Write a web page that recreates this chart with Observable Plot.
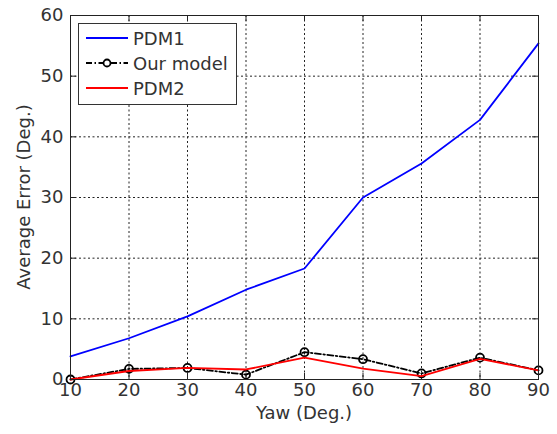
<!DOCTYPE html>
<html>
<head>
<meta charset="utf-8">
<script src="https://cdn.jsdelivr.net/npm/d3@7"></script>
<script src="https://cdn.jsdelivr.net/npm/@observablehq/plot@0.6"></script>
<style>
  html, body { margin: 0; padding: 0; background: white; }
  #chart { width: 557px; height: 434px; }
</style>
</head>
<body>
<div id="chart"></div>
<script>
const yaw = [10, 20, 30, 40, 50, 60, 70, 80, 90];
const pdm1 = [3.8, 6.8, 10.4, 14.8, 18.3, 30.0, 35.6, 42.8, 55.4];
const ourModel = [0.0, 1.75, 1.9, 0.8, 4.5, 3.35, 1.0, 3.6, 1.5];
const pdm2 = [0.0, 1.4, 1.9, 1.65, 3.6, 1.8, 0.55, 3.4, 1.5];
const xTicks = [10, 20, 30, 40, 50, 60, 70, 80, 90];
const yTicks = [0, 10, 20, 30, 40, 50, 60];
const seriesNames = ["PDM1", "Our model", "PDM2"];
const xLabel = "Yaw (Deg.)";
const yLabel = "Average Error (Deg.)";

const W = 557, H = 434, mL = 70, mR = 19, mT = 15, mB = 55;
const innerH = H - mT - mB, innerW = W - mL - mR;
const tickLen = 6;

const rows = (vals) => yaw.map((x, i) => ({x, y: vals[i]}));

const chart = Plot.plot({
  width: W, height: H,
  marginLeft: mL, marginRight: mR, marginTop: mT, marginBottom: mB,
  style: {fontFamily: "DejaVu Sans", fontSize: "18px", color: "#333", background: "white"},
  x: {domain: [10, 90]},
  y: {domain: [0, 60]},
  marks: [
    Plot.ruleX(xTicks, {stroke: "#222", strokeDasharray: "2,2.5", strokeWidth: 1}),
    Plot.ruleY(yTicks, {stroke: "#222", strokeDasharray: "2,2.5", strokeWidth: 1}),
    Plot.ruleX(xTicks, {stroke: "#222", insetTop: innerH - tickLen}),
    Plot.ruleX(xTicks, {stroke: "#222", insetBottom: innerH - tickLen}),
    Plot.ruleY(yTicks, {stroke: "#222", insetRight: innerW - tickLen}),
    Plot.ruleY(yTicks, {stroke: "#222", insetLeft: innerW - tickLen}),
    Plot.axisX(xTicks, {tickSize: 0, tickPadding: 4, label: null, fill: "#333"}),
    Plot.axisY(yTicks, {tickSize: 0, tickPadding: 7, label: null, fill: "#333"}),
    Plot.line(rows(pdm1), {x: "x", y: "y", stroke: "#0000ff", strokeWidth: 1.8}),
    Plot.line(rows(ourModel), {x: "x", y: "y", stroke: "#000", strokeWidth: 1.8, strokeDasharray: "6,2.5,1.5,2.5"}),
    Plot.dot(rows(ourModel), {x: "x", y: "y", r: 4, stroke: "#000", strokeWidth: 1.8, fill: "none"}),
    Plot.line(rows(pdm2), {x: "x", y: "y", stroke: "#ff0000", strokeWidth: 1.8}),
    Plot.frame({stroke: "#222", strokeWidth: 1})
  ]
});

const svg = d3.select(chart);
// axis titles
svg.append("text")
  .attr("x", mL + innerW / 2).attr("y", 419)
  .attr("text-anchor", "middle")
  .attr("font-family", "DejaVu Sans").attr("font-size", 18).attr("fill", "#333")
  .text(xLabel);
svg.append("text")
  .attr("transform", `translate(30,${mT + innerH / 2}) rotate(-90)`)
  .attr("text-anchor", "middle")
  .attr("font-family", "DejaVu Sans").attr("font-size", 18).attr("fill", "#333")
  .text(yLabel);

// legend
const lg = svg.append("g");
lg.append("rect").attr("x", 78.5).attr("y", 23.5).attr("width", 158).attr("height", 81)
  .attr("fill", "white").attr("stroke", "#333").attr("stroke-width", 1);
const styles = [
  {stroke: "#0000ff", dash: null, marker: false},
  {stroke: "#000", dash: "6,2.5,1.5,2.5", marker: true},
  {stroke: "#ff0000", dash: null, marker: false}
];
seriesNames.forEach((name, i) => {
  const cy = 38 + i * 25;
  const s = styles[i];
  const l = lg.append("line").attr("x1", 86).attr("x2", 128).attr("y1", cy).attr("y2", cy)
    .attr("stroke", s.stroke).attr("stroke-width", 1.8);
  if (s.dash) l.attr("stroke-dasharray", s.dash);
  if (s.marker) lg.append("circle").attr("cx", 107).attr("cy", cy).attr("r", 3.5)
    .attr("fill", "white").attr("stroke", "#000").attr("stroke-width", 1.8);
  lg.append("text").attr("x", 133).attr("y", cy + 7)
    .attr("text-anchor", "start")
    .attr("font-family", "DejaVu Sans").attr("font-size", 18).attr("fill", "#333")
    .text(name);
});

document.getElementById("chart").appendChild(chart);
</script>
</body>
</html>
